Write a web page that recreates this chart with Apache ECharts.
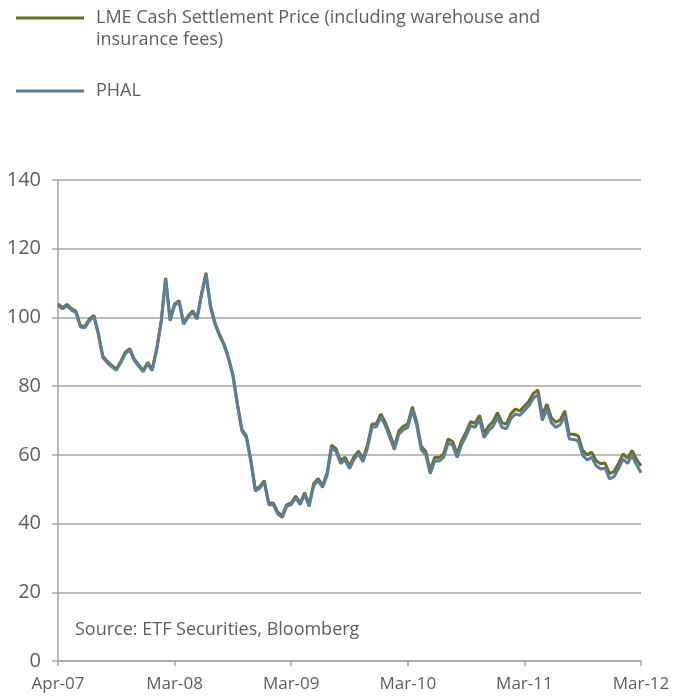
<!DOCTYPE html>
<html>
<head>
<meta charset="utf-8">
<script src="https://cdn.jsdelivr.net/npm/echarts@6/dist/echarts.min.js"></script>
<style>
  html, body { margin: 0; padding: 0; background: #ffffff; }
  #chart { width: 673px; height: 698px; }
</style>
</head>
<body>
<div id="chart"></div>
<script>
// Biweekly observations, 2 Apr 2007 to 26 Mar 2012 (131 points)
var startDate = '2007-04-02';
var stepDays = 14;
var pointCount = 131;

var tickLabels = ['Apr-07', 'Mar-08', 'Mar-09', 'Mar-10', 'Mar-11', 'Mar-12'];
var tickEvery = 26;

var yTicks = [0, 20, 40, 60, 80, 100, 120, 140];

var lmeName = 'LME Cash Settlement Price (including warehouse and insurance fees)';
var lmeLegendLines = ['LME Cash Settlement Price (including warehouse and', 'insurance fees)'];
var phalName = 'PHAL';

var lmeValues = [
  103.9, 102.9, 103.8, 102.6, 101.8, 97.6, 97.4, 99.5, 100.6, 95.4,
  88.7, 87.2, 86.0, 85.0, 87.2, 89.9, 90.9, 87.9, 86.2, 84.6,
  86.9, 84.9, 90.9, 98.9, 111.5, 99.4, 103.9, 104.9, 98.4, 100.4,
  101.9, 99.9, 106.9, 113.0, 103.4, 98.4, 95.1, 92.4, 88.4, 83.4,
  74.9, 67.4, 65.5, 58.5, 50.0, 50.8, 52.5, 46.0, 46.0, 43.3,
  42.3, 45.5, 46.0, 48.0, 46.0, 49.0, 45.5, 51.6, 53.1, 51.1,
  54.7, 62.8, 61.8, 58.3, 59.3, 56.8, 59.5, 61.1, 58.8, 62.9,
  68.9, 69.1, 71.9, 69.4, 66.0, 62.4, 67.0, 68.3, 69.0, 74.0,
  69.5, 62.5, 61.0, 55.5, 59.3, 59.2, 60.4, 64.6, 63.9, 60.3,
  64.2, 66.7, 69.7, 69.2, 71.5, 66.3, 68.3, 69.7, 72.3, 69.3,
  69.0, 72.0, 73.3, 72.8, 74.2, 75.6, 77.9, 78.9, 71.5, 74.8,
  70.8, 69.5, 70.2, 72.8, 66.0, 66.0, 65.5, 61.3, 60.0, 60.8,
  58.3, 57.4, 57.6, 54.5, 55.2, 57.5, 60.3, 59.0, 61.3, 58.7,
  56.8
];

var phalValues = [
  103.5, 102.5, 103.3, 102.2, 101.4, 97.2, 97.0, 99.0, 100.2, 95.0,
  88.3, 86.8, 85.6, 84.6, 86.8, 89.5, 90.5, 87.5, 85.8, 84.2,
  86.5, 84.5, 90.5, 98.5, 111.0, 99.0, 103.5, 104.5, 98.0, 100.0,
  101.5, 99.5, 106.5, 112.5, 103.0, 98.0, 94.7, 92.0, 88.0, 83.0,
  74.5, 67.0, 65.0, 58.0, 49.5, 50.3, 52.0, 45.5, 45.5, 42.8,
  41.8, 45.0, 45.5, 47.5, 45.5, 48.5, 45.0, 51.0, 52.5, 50.5,
  54.0, 62.0, 61.0, 57.5, 58.5, 56.0, 58.7, 60.3, 58.0, 62.0,
  68.0, 68.2, 71.0, 68.5, 65.0, 61.5, 66.0, 67.3, 68.0, 73.0,
  68.5, 61.5, 60.0, 54.5, 58.3, 58.2, 59.3, 63.5, 62.8, 59.2,
  63.0, 65.5, 68.5, 68.0, 70.3, 65.0, 67.0, 68.3, 70.9, 68.0,
  67.6, 70.6, 71.9, 71.5, 72.9, 74.3, 76.5, 77.5, 70.0, 73.4,
  69.4, 68.0, 68.8, 71.3, 64.6, 64.5, 64.0, 59.9, 58.5, 59.3,
  56.8, 55.9, 56.1, 53.0, 53.7, 56.0, 58.8, 57.5, 59.8, 57.2,
  54.8
];

var categories = [];
(function () {
  var d0 = new Date(startDate + 'T00:00:00Z').getTime();
  for (var i = 0; i < pointCount; i++) {
    var d = new Date(d0 + i * stepDays * 86400000);
    categories.push(d.toISOString().slice(0, 10));
  }
})();

var FONT = '"Open Sans", Lato, "DejaVu Sans", sans-serif';
var TEXT = '#5e5e5e';
var GRID = '#a6a6a6';
var OLIVE = '#6e6e2b';
var BLUE = '#5b7f98';

var chart = echarts.init(document.getElementById('chart'), null, { renderer: 'canvas' });

chart.setOption({
  backgroundColor: '#ffffff',
  animation: false,
  textStyle: { fontFamily: FONT },
  title: {
    text: 'Source: ETF Securities, Bloomberg',
    left: 75,
    top: 621,
    padding: 0,
    textStyle: { fontFamily: FONT, fontSize: 18, fontWeight: 'normal', color: TEXT }
  },
  legend: [
    {
      data: [lmeName],
      left: 16,
      top: -15,
      padding: 0,
      icon: 'rect',
      itemWidth: 68,
      itemHeight: 3,
      formatter: function () {
        // leading empty line keeps the marker level with the first text line
        return '\n' + lmeLegendLines.join('\n');
      },
      textStyle: { fontFamily: FONT, fontSize: 18, color: TEXT, lineHeight: 22, padding: [0, 0, 0, 7] }
    },
    {
      data: [phalName],
      left: 16,
      top: 80,
      padding: 0,
      icon: 'rect',
      itemWidth: 68,
      itemHeight: 3,
      textStyle: { fontFamily: FONT, fontSize: 18, color: TEXT, lineHeight: 22, padding: [0, 0, 0, 7] }
    }
  ],
  grid: { left: 58, right: 32, top: 180, bottom: 37, containLabel: false },
  xAxis: {
    type: 'category',
    data: categories,
    boundaryGap: false,
    axisLine: { show: true, lineStyle: { color: GRID, width: 1.5 } },
    axisTick: {
      show: true,
      length: 5,
      inside: false,
      interval: function (idx) { return idx % tickEvery === 0; },
      lineStyle: { color: GRID, width: 1.5 }
    },
    axisLabel: {
      show: true,
      interval: function (idx) { return idx % tickEvery === 0; },
      formatter: function (val, idx) { return tickLabels[Math.round(idx / tickEvery)]; },
      color: TEXT,
      fontSize: 17,
      fontFamily: FONT,
      margin: 15
    },
    splitLine: { show: false }
  },
  yAxis: {
    type: 'value',
    min: yTicks[0],
    max: yTicks[yTicks.length - 1],
    interval: yTicks[1] - yTicks[0],
    axisLine: { show: true, lineStyle: { color: GRID, width: 1.5 } },
    axisTick: { show: true, length: 6, inside: false, lineStyle: { color: GRID, width: 1.5 } },
    axisLabel: { color: TEXT, fontSize: 20, fontFamily: FONT, margin: 17 },
    splitLine: { show: true, lineStyle: { color: GRID, width: 1.5 } }
  },
  series: [
    {
      name: lmeName,
      type: 'line',
      data: lmeValues,
      showSymbol: false,
      symbol: 'none',
      lineStyle: { color: OLIVE, width: 3 },
      itemStyle: { color: OLIVE },
      z: 2
    },
    {
      name: phalName,
      type: 'line',
      data: phalValues,
      showSymbol: false,
      symbol: 'none',
      lineStyle: { color: BLUE, width: 3 },
      itemStyle: { color: BLUE },
      z: 3
    }
  ]
});
</script>
</body>
</html>
